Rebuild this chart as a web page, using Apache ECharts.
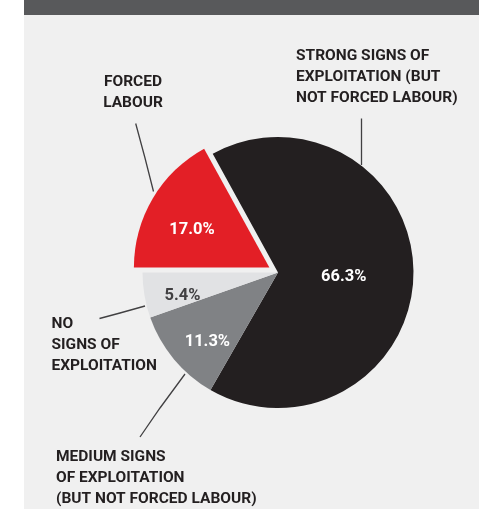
<!DOCTYPE html>
<html><head><meta charset="utf-8">
<script src="https://cdn.jsdelivr.net/npm/echarts@6/dist/echarts.min.js"></script>
<style>html,body{margin:0;padding:0;background:#fff}#c{width:479px;height:509px}</style>
</head><body><div id="c"></div>
<script>
// ---- data ----
const categories = [
  'STRONG SIGNS OF\nEXPLOITATION (BUT\nNOT FORCED LABOUR)',
  'MEDIUM SIGNS\nOF EXPLOITATION\n(BUT NOT FORCED LABOUR)',
  'NO\nSIGNS OF\nEXPLOITATION',
  'FORCED\nLABOUR'
];
const values = [66.3, 11.3, 5.4, 17.0];
const exploded = [false, false, false, true];

// ---- styles / layout ----
const sliceColors = ['#231f20', '#808285', '#e1e2e4', '#e31f26'];
const pctColors = ['#ffffff', '#ffffff', '#414042', '#ffffff'];
const FONT = "Roboto,'Liberation Sans',sans-serif";
const CENTER = [278, 272.5];
const R = 135.5;
const START = 118.8;
const pctNudge = [[-5, 4], [7, 5], [4, 6], [1, 9]];
// outer name label anchors + guide lines
const nameLayout = [
  {x: 296, y: 46, align: 'left', line: [[361.5, 118.5], [361.5, 140], [361.5, 165]]},
  {x: 56, y: 447, align: 'left', line: [[140, 437], [160, 408], [185, 374]]},
  {x: 51.5, y: 314, align: 'left', line: [[99.5, 318.5], [120, 313], [145, 306]]},
  {x: 133, y: 72, align: 'center', line: [[135.7, 123.5], [145, 158], [153.5, 191.5]]}
];

const chart = echarts.init(document.getElementById('c'), null, {renderer: 'canvas'});

function baseSeries(radius) {
  return {
    type: 'pie', animation: false,
    center: CENTER, radius: radius, startAngle: START, clockwise: true,
    avoidLabelOverlap: false,
    emphasis: {disabled: true}
  };
}

function pctSeries(radius, showIdx) {
  return Object.assign(baseSeries(radius), {
    silent: true, z: 5,
    itemStyle: {color: 'rgba(0,0,0,0)'},
    labelLine: {show: false},
    data: categories.map((n, i) => ({
      name: n, value: values[i],
      label: {show: showIdx.includes(i), color: pctColors[i]}
    })),
    label: {
      position: 'inside', fontFamily: FONT, fontWeight: 'bold', fontSize: 16.5,
      formatter: p => p.value.toFixed(1) + '%'
    },
    labelLayout: p => ({dx: pctNudge[p.dataIndex][0], dy: pctNudge[p.dataIndex][1]})
  });
}

chart.setOption({
  backgroundColor: '#f0f0f0',
  animation: false,
  graphic: [
    {type: 'rect', left: 0, top: 0, shape: {width: 24, height: 509}, style: {fill: '#ffffff'}, z: 100, silent: true},
    {type: 'rect', left: 24, top: 0, shape: {width: 455, height: 15}, style: {fill: '#58595b'}, z: 100, silent: true}
  ],
  series: [
    // slices
    Object.assign(baseSeries(R), {
      selectedMode: 'single', selectedOffset: 10,
      select: {itemStyle: {borderWidth: 0}},
      data: categories.map((n, i) => ({
        name: n, value: values[i], selected: exploded[i],
        itemStyle: {color: sliceColors[i]}
      })),
      label: {show: false},
      labelLine: {show: false}
    }),
    // category name labels
    Object.assign(baseSeries(R), {
      silent: true, z: 4,
      itemStyle: {color: 'rgba(0,0,0,0)'},
      data: categories.map((n, i) => ({name: n, value: values[i]})),
      label: {
        show: true, position: 'outside', fontFamily: FONT, fontWeight: 'bold',
        fontSize: 15.5, lineHeight: 21, color: '#231f20'
      },
      labelLine: {show: true, lineStyle: {color: '#414042', width: 1.3}},
      labelLayout: p => {
        const L = nameLayout[p.dataIndex];
        return {x: L.x, y: L.y, align: L.align, verticalAlign: 'top', labelLinePoints: L.line};
      }
    }),
    pctSeries([0, R], [0]),
    pctSeries([0, 196], [1, 2, 3])
  ]
});
</script></body></html>
